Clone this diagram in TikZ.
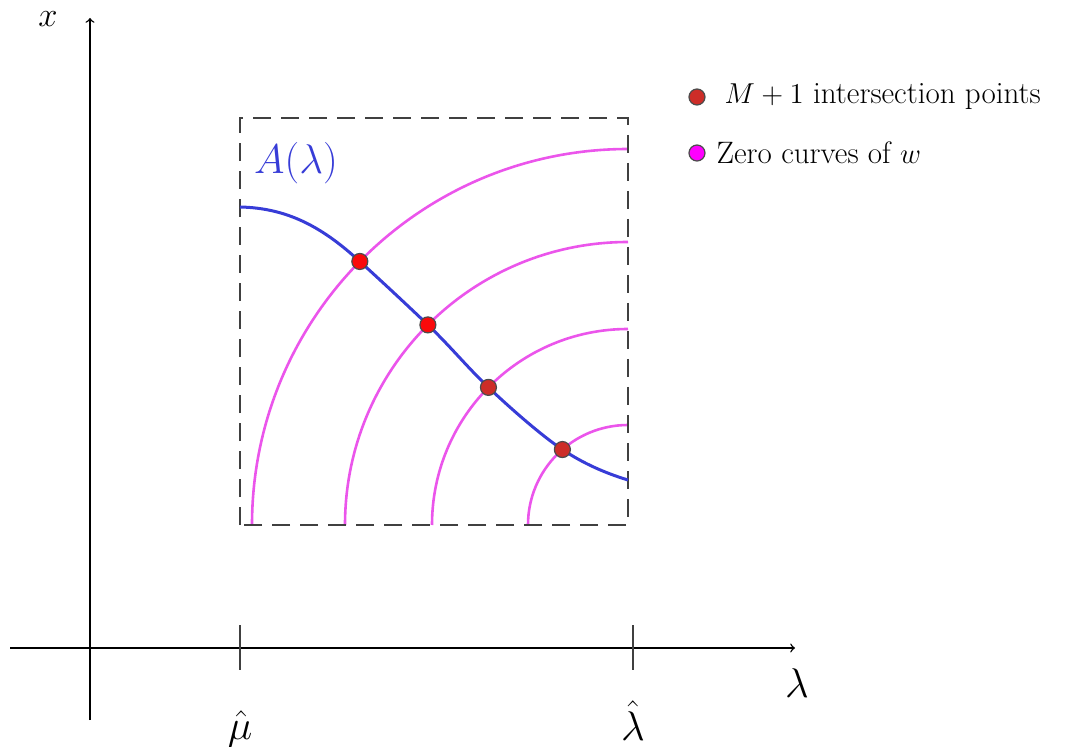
\documentclass[tikz,border=0pt]{standalone}
\usepackage{tikz}
\usetikzlibrary{arrows,positioning,calc}
\usepackage{xcolor}

\definecolor{curveblue}{RGB}{55,60,215}
\definecolor{zeropink}{RGB}{235,85,235}
\definecolor{ptred}{RGB}{250,10,10}
\definecolor{ptdark}{RGB}{205,45,40}
\definecolor{legmag}{RGB}{255,0,255}

\begin{document}
\begin{tikzpicture}[x=0.5pt, y=0.5pt]
    % Define styles
    \tikzstyle{axis} = [line width=0.7pt, ->, >=to]
    \tikzstyle{tickmark} = [line width=1.4pt, draw=black!75]
    \tikzstyle{zero} = [line width=1.3pt, draw=zeropink]
    \tikzstyle{box} = [line width=1.4pt, draw=black!75, dash pattern=on 9pt off 5pt]
    \tikzstyle{dot} = [circle, draw=black!70, line width=0.6pt, minimum size=8pt, inner sep=0pt]
    \tikzstyle{legend} = [font=\fontsize{15.5}{18}\selectfont]

    \useasboundingbox (0,0) rectangle (1083,746);

    % Axes
    \coordinate (xstart) at (10,98);
    \coordinate (xend) at (795,98);
    \coordinate (ystart) at (90,26);
    \coordinate (yend) at (90,728);
    \draw [axis] (xstart) -- (xend);
    \draw [axis] (ystart) -- (yend);
    \node [font=\LARGE] (xlbl) at (48,727) {$x$};
    \node [font=\huge] (lamlbl) at (797,63) {$\lambda$};

    % Ticks
    \coordinate (mu) at (240,98);
    \coordinate (lam) at (633,98);
    \draw [tickmark] ($(mu)+(0,23)$) -- ($(mu)+(0,-22)$);
    \draw [tickmark] ($(lam)+(0,23)$) -- ($(lam)+(0,-22)$);
    \node [font=\huge] (mulbl) at (240,17) {$\hat{\mu}$};
    \node [font=\huge] (lamhat) at (633,25) {$\hat{\lambda}$};

    % Zero curves
    \coordinate (c) at (628,221);
    \foreach \r in {376,283,196,100}
        \draw [zero] (c) ++(180:\r) arc (180:90:\r);

    % Box
    \draw [box] (240,221) rectangle (628,628);

    % Intersection points
    \coordinate (p1) at ($(c)+(135.5:376)$);
    \coordinate (p2) at ($(c)+(135:283)$);
    \coordinate (p3) at ($(c)+(135.4:196)$);
    \coordinate (p4) at ($(c)+(131:100)$);

    % A(lambda)
    \coordinate (astart) at (240,539);
    \coordinate (aend) at (628,266);
    \draw [curveblue, line width=1.5pt] (astart)
        .. controls +(50,-1) and +(-35,32) .. (p1)
        .. controls +(22,-20) and +(-22,21) .. (p2)
        .. controls +(22,-21) and +(-21,20) .. (p3)
        .. controls +(21,-20) and +(-21,14) .. (p4)
        .. controls +(21,-14) and +(-23,7) .. (aend);
    \node [text=curveblue, font=\huge] (alabel) at (296,583) {$A(\lambda)$};

    \node [dot, fill=ptred] (d1) at (p1) {};
    \node [dot, fill=ptred] (d2) at (p2) {};
    \node [dot, fill=ptdark] (d3) at (p3) {};
    \node [dot, fill=ptdark] (d4) at (p4) {};

    % Legend
    \node [dot, fill=ptdark] (leg1) at (697,649) {};
    \node [legend, right=6pt of leg1] (leg1txt) {$M+1$ intersection points};
    \node [dot, fill=legmag] (leg2) at (697,593) {};
    \node [legend, right=2pt of leg2] (leg2txt) {Zero curves of $w$};
\end{tikzpicture}
\end{document}
